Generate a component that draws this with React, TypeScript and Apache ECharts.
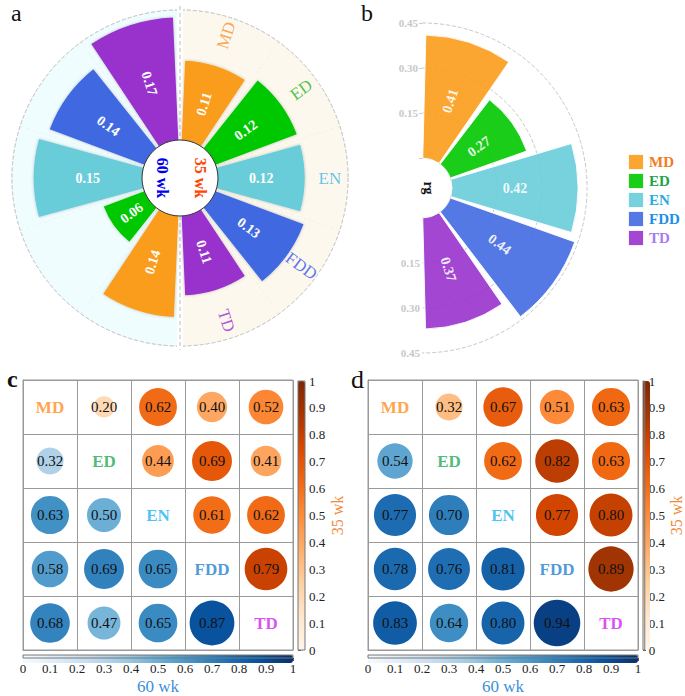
import React, { useEffect, useRef } from 'react';
import * as echarts from 'echarts';

// ---------- data ----------
const categories = ['MD', 'ED', 'EN', 'FDD', 'TD'];
// panel a: heritability (h2) at 35 wk (right half) and 60 wk (left half)
const h2Wk35 = [0.11, 0.12, 0.12, 0.13, 0.11];
const h2Wk60 = [0.14, 0.06, 0.15, 0.14, 0.17];
// panel b: genetic correlation rg between 35 wk and 60 wk
const rgValues = [0.41, 0.27, 0.42, 0.44, 0.37];
// panel c: upper triangle = 35 wk, lower triangle = 60 wk (null = diagonal)
const corrC = [
  [null, 0.20, 0.62, 0.40, 0.52],
  [0.32, null, 0.44, 0.69, 0.41],
  [0.63, 0.50, null, 0.61, 0.62],
  [0.58, 0.69, 0.65, null, 0.79],
  [0.68, 0.47, 0.65, 0.87, null],
];
// panel d
const corrD = [
  [null, 0.32, 0.67, 0.51, 0.63],
  [0.54, null, 0.62, 0.82, 0.63],
  [0.77, 0.70, null, 0.77, 0.80],
  [0.78, 0.76, 0.81, null, 0.89],
  [0.83, 0.64, 0.80, 0.94, null],
];

// ---------- styles ----------
const serif = 'Liberation Serif';
const barColors = ['#fa9c1b', '#00c800', '#68cdd9', '#4169e1', '#9932cc'];
const ringLabelColors = ['#f39330', '#23b523', '#3db5e6', '#2f52ee', '#9b2fcf'];
const legendTextColors = ['#f47b20', '#1fa34a', '#29abe2', '#1e8fe8', '#a67cf2'];
const diagColors = ['#ff8c1a', '#1faa55', '#1eb4f0', '#1f7fd0', '#d41ff2'];
const oranges = ['#fff5eb', '#fee6ce', '#fdd0a2', '#fdae6b', '#fd8d3c', '#f16913', '#d94801', '#a63603', '#7f2704'];
const blues = ['#f7fbff', '#deebf7', '#c6dbef', '#9ecae1', '#6baed6', '#4292c6', '#2171b5', '#08519c', '#08306b'];
const beige = '#fdf8ee';
const cyanBg = '#f0fdfe';
const dashGray = '#c8c8c8';

function radialRot(theta: number) {
  let r = 90 - theta;
  while (r > 90) r -= 180;
  while (r < -90) r += 180;
  return r;
}
// polar bar labels take their numeric rotation in radians
const rad = (deg: number) => (deg * Math.PI) / 180;

function triPoints(m: (number | null)[][], upper: boolean) {
  const out: any[] = [];
  for (let i = 0; i < m.length; i++) {
    for (let j = 0; j < m[i].length; j++) {
      const v = m[i][j];
      if (v == null) continue;
      if (upper ? j > i : j < i) out.push([j, i, v]);
    }
  }
  return out;
}

function matrixSeries(gridIndex: number, m: (number | null)[][]) {
  const common = {
    type: 'scatter',
    xAxisIndex: gridIndex,
    yAxisIndex: gridIndex,
    symbolSize: (val: number[]) => 48 * Math.sqrt(val[2]),
    label: {
      show: true,
      position: 'inside',
      color: '#111',
      fontSize: 15,
      fontFamily: serif,
      formatter: (p: any) => p.value[2].toFixed(2),
    },
    itemStyle: { opacity: 1 },
    emphasis: { disabled: true },
  };
  return [
    { ...common, name: 'up' + gridIndex, data: triPoints(m, true) },
    { ...common, name: 'low' + gridIndex, data: triPoints(m, false) },
    {
      type: 'scatter',
      xAxisIndex: gridIndex,
      yAxisIndex: gridIndex,
      symbolSize: 1,
      itemStyle: { color: 'rgba(0,0,0,0)' },
      data: categories.map((c, i) => ({
        value: [i, i],
        name: c,
        label: { color: diagColors[i] },
      })),
      label: {
        show: true,
        position: 'inside',
        formatter: '{b}',
        fontSize: 17,
        fontWeight: 'bold',
        fontFamily: serif,
      },
    },
  ];
}

function matrixAxes(gridIndex: number) {
  const base = {
    type: 'category',
    gridIndex,
    data: categories,
    boundaryGap: true,
    axisLabel: { show: false },
    axisTick: { show: false },
    axisLine: { show: true, lineStyle: { color: '#999' } },
    splitLine: { show: true, lineStyle: { color: '#999', width: 1 } },
  };
  return { x: { ...base }, y: { ...base, inverse: true } };
}

function colorbarAxes(gridIndex: number, vertical: boolean, name: string, nameColor: string, nameGap: number) {
  const valueAxis = {
    type: 'value',
    gridIndex,
    min: 0,
    max: 1,
    interval: 0.1,
    position: vertical ? 'right' : 'bottom',
    axisLine: { show: false },
    axisTick: { show: true, length: 3, lineStyle: { color: '#555' } },
    axisLabel: { fontSize: 13, color: '#222', fontFamily: serif, margin: 4 },
    splitLine: { show: false },
    name,
    nameLocation: 'middle',
    nameGap,
    nameRotate: vertical ? 90 : 0,
    nameTextStyle: { color: nameColor, fontSize: vertical ? 16 : 17, fontFamily: serif },
  };
  const hidden = { type: 'value', gridIndex, show: false, min: 0, max: 1 };
  return vertical ? { x: hidden, y: valueAxis } : { x: valueAxis, y: hidden };
}

export default function App() {
  const ref = useRef<HTMLDivElement>(null);
  useEffect(() => {
    if (!ref.current) return;
    const chart = echarts.init(ref.current, null, { renderer: 'svg' });

    // ---- panel a ----
    const aValues = [...h2Wk35, ...h2Wk60];
    const aBarData = aValues.map((v, i) => ({
      value: v,
      itemStyle: { color: barColors[i % 5] },
      label: { rotate: rad(radialRot((i + 0.5) * 36)) },
    }));
    const aLabelData = categories.map((c, i) => ({
      value: [0.155, i],
      name: c,
      label: { rotate: radialRot((i + 0.5) * 36), color: ringLabelColors[i] },
    }));

    // ---- panel b ----
    const bSeries = categories.map((c, i) => ({
      type: 'bar',
      name: c,
      coordinateSystem: 'polar',
      polarIndex: 1,
      stack: 'rg',
      barCategoryGap: '8%',
      itemStyle: { color: barColors[i], opacity: 0.9, borderColor: '#fff', borderWidth: 1 },
      label: {
        show: true,
        position: 'middle',
        color: '#fff',
        fontWeight: 'bold',
        fontSize: 14,
        fontFamily: serif,
        formatter: (p: any) => Number(p.value).toFixed(2),
      },
      data: categories.map((_, j) =>
        j === i ? { value: rgValues[i], label: { rotate: rad(radialRot((i + 0.5) * 36)) } } : '-'
      ),
    }));

    const mc = matrixAxes(0);
    const md = matrixAxes(1);
    const cbCV = colorbarAxes(2, true, '35 wk', '#f08a3c', 15);
    const cbCH = colorbarAxes(3, false, '60 wk', '#3d8fd9', 20);
    const cbDV = colorbarAxes(4, true, '35 wk', '#f08a3c', 13);
    const cbDH = colorbarAxes(5, false, '60 wk', '#3d8fd9', 20);

    const rLabel = {
      color: '#c8c8c8',
      fontWeight: 'bold',
      fontSize: 11,
      fontFamily: serif,
      margin: 4,
      formatter: (v: number) => (v === 0 ? '' : v.toFixed(2)),
    };

    const option: any = {
      animation: false,
      backgroundColor: '#fff',
      textStyle: { fontFamily: serif },
      polar: [
        { center: [180, 178], radius: [38, 168] },
        { center: [422, 188], radius: [30, 165] },
        { center: [422, 188], radius: [30, 165] },
      ],
      angleAxis: [
        {
          polarIndex: 0,
          type: 'category',
          data: aValues.map((_, i) => String(i)),
          startAngle: 90,
          clockwise: true,
          boundaryGap: true,
          axisLine: { show: true, lineStyle: { color: dashGray, type: 'dashed' } },
          axisTick: { show: false },
          axisLabel: { show: false },
          splitLine: { show: true, lineStyle: { color: dashGray, type: 'dashed' } },
          splitArea: {
            show: true,
            areaStyle: { color: [beige, beige, beige, beige, beige, cyanBg, cyanBg, cyanBg, cyanBg, cyanBg] },
          },
        },
        {
          polarIndex: 1,
          type: 'category',
          data: categories,
          startAngle: 90,
          endAngle: -90,
          clockwise: true,
          boundaryGap: true,
          axisLine: { show: false },
          axisTick: { show: false },
          axisLabel: { show: false },
          splitLine: { show: false },
        },
        {
          polarIndex: 2,
          type: 'category',
          data: categories,
          startAngle: -90,
          endAngle: 90,
          clockwise: false,
          show: false,
        },
      ],
      radiusAxis: [
        {
          polarIndex: 0,
          type: 'value',
          min: 0,
          max: 0.18,
          interval: 0.03,
          axisLine: { show: false },
          axisTick: { show: false },
          axisLabel: { show: false },
          splitLine: { show: true, lineStyle: { color: dashGray, type: 'dashed' } },
        },
        {
          polarIndex: 1,
          type: 'value',
          min: 0,
          max: 0.45,
          interval: 0.15,
          axisLine: { show: false },
          axisTick: { show: true, length: 3, lineStyle: { color: '#ccc' } },
          axisLabel: rLabel,
          splitLine: { show: true, showMinLine: false, lineStyle: { color: dashGray, type: 'dashed' } },
        },
        {
          polarIndex: 2,
          type: 'value',
          min: 0,
          max: 0.45,
          interval: 0.15,
          axisLine: { show: false },
          axisTick: { show: false },
          axisLabel: { ...rLabel, margin: -2, align: 'right' },
          splitLine: { show: false },
        },
      ],
      grid: [
        { left: 23, top: 380, width: 270, height: 270, show: true, borderColor: '#999', borderWidth: 1 },
        { left: 368, top: 380, width: 270, height: 270, show: true, borderColor: '#999', borderWidth: 1 },
        { left: 298, top: 381, width: 7, height: 269, show: true, borderColor: '#777', borderWidth: 1, z: 10 },
        { left: 23, top: 655, width: 270, height: 8, show: true, borderColor: '#777', borderWidth: 1, z: 10 },
        { left: 643, top: 381, width: 7, height: 269, show: true, borderColor: '#777', borderWidth: 1, z: 10 },
        { left: 368, top: 655, width: 270, height: 8, show: true, borderColor: '#777', borderWidth: 1, z: 10 },
      ],
      xAxis: [mc.x, md.x, cbCV.x, cbCH.x, cbDV.x, cbDH.x],
      yAxis: [mc.y, md.y, cbCV.y, cbCH.y, cbDV.y, cbDH.y],
      visualMap: [
        {
          type: 'continuous', min: 0, max: 1, dimension: 2, seriesIndex: 7,
          inRange: { color: oranges }, orient: 'vertical', left: 298, top: 381,
          itemWidth: 7, itemHeight: 269, calculable: false, padding: 0, hoverLink: false,
        },
        {
          type: 'continuous', min: 0, max: 1, dimension: 2, seriesIndex: 8,
          inRange: { color: blues }, orient: 'horizontal', left: 23, top: 655,
          itemWidth: 8, itemHeight: 270, calculable: false, padding: 0, hoverLink: false,
        },
        {
          type: 'continuous', min: 0, max: 1, dimension: 2, seriesIndex: 10,
          inRange: { color: oranges }, orient: 'vertical', left: 643, top: 381,
          itemWidth: 7, itemHeight: 269, calculable: false, padding: 0, hoverLink: false,
        },
        {
          type: 'continuous', min: 0, max: 1, dimension: 2, seriesIndex: 11,
          inRange: { color: blues }, orient: 'horizontal', left: 368, top: 655,
          itemWidth: 8, itemHeight: 270, calculable: false, padding: 0, hoverLink: false,
        },
      ],
      legend: {
        data: categories.map((c, i) => ({ name: c, textStyle: { color: legendTextColors[i] } })),
        orient: 'vertical',
        left: 622,
        top: 148,
        itemWidth: 16,
        itemHeight: 16,
        itemGap: 1,
        icon: 'rect',
        selectedMode: false,
        textStyle: { fontFamily: serif, fontWeight: 'bold', fontSize: 15, lineHeight: 16 },
      },
      graphic: [
        { type: 'rect', z: 1, shape: { x: 177, y: 6, width: 6, height: 344 }, style: { fill: '#fff' } },
        { type: 'line', z: 1, shape: { x1: 180, y1: 6, x2: 180, y2: 350 }, style: { stroke: '#bbb', lineWidth: 1, lineDash: [4, 3] } },
        { type: 'circle', z: 5, shape: { cx: 180, cy: 178, r: 38 }, style: { fill: '#fff', stroke: '#333', lineWidth: 1 } },
        { type: 'text', z: 6, x: 200, y: 178, rotation: -Math.PI / 2, style: { text: '35 wk', fill: '#ff4500', font: `bold 16px ${serif}`, align: 'center', verticalAlign: 'middle' } },
        { type: 'text', z: 6, x: 162, y: 178, rotation: -Math.PI / 2, style: { text: '60 wk', fill: '#0000ee', font: `bold 16px ${serif}`, align: 'center', verticalAlign: 'middle' } },
        { type: 'text', z: 6, x: 428, y: 188, rotation: -Math.PI / 2, style: { text: 'rg', fill: '#111', font: `bold 14px ${serif}`, align: 'center', verticalAlign: 'middle' } },
        { type: 'text', z: 6, x: 11, y: 13, style: { text: 'a', fill: '#111', font: `24px ${serif}`, verticalAlign: 'middle' } },
        { type: 'text', z: 6, x: 361, y: 13, style: { text: 'b', fill: '#111', font: `24px ${serif}`, verticalAlign: 'middle' } },
        { type: 'text', z: 6, x: 7, y: 379, style: { text: 'c', fill: '#111', font: `bold 24px ${serif}`, verticalAlign: 'middle' } },
        { type: 'text', z: 6, x: 351, y: 379, style: { text: 'd', fill: '#111', font: `26px ${serif}`, verticalAlign: 'middle' } },
      ],
      series: [
        {
          type: 'bar',
          name: 'h2',
          coordinateSystem: 'polar',
          polarIndex: 0,
          barCategoryGap: '14%',
          data: aBarData,
          itemStyle: { shadowColor: 'rgba(0,0,0,0.25)', shadowBlur: 3 },
          label: {
            show: true,
            position: 'middle',
            color: '#fff',
            fontWeight: 'bold',
            fontSize: 14,
            fontFamily: serif,
            formatter: (p: any) => Number(p.value).toFixed(2),
          },
        },
        {
          type: 'scatter',
          name: 'ringLabels',
          coordinateSystem: 'polar',
          polarIndex: 0,
          symbolSize: 1,
          itemStyle: { color: 'rgba(0,0,0,0)' },
          data: aLabelData,
          label: { show: true, position: 'inside', formatter: '{b}', fontSize: 17, fontFamily: serif },
        },
        ...bSeries,
        ...matrixSeries(0, corrC),
        ...matrixSeries(1, corrD),
      ],
    };
    chart.setOption(option);
    return () => chart.dispose();
  }, []);
  return (
    <div
      ref={ref}
      style={{ position: 'fixed', left: 0, top: 0, width: 685, height: 696, background: '#fff' }}
    />
  );
}
